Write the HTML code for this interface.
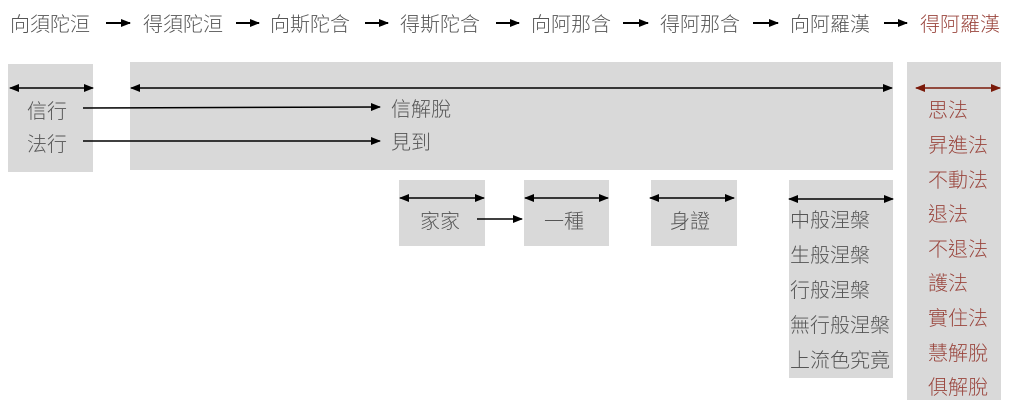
<!DOCTYPE html>
<html><head><meta charset="utf-8"><style>
html,body{margin:0;padding:0;background:#fff;width:1024px;height:409px;overflow:hidden}
svg text{font-family:"Liberation Sans","Noto Sans CJK TC",sans-serif;font-size:20px;fill:#555;font-weight:300}
svg text.r{fill:#9a463e}
</style></head><body>
<svg width="1024" height="409" viewBox="0 0 1024 409" xmlns="http://www.w3.org/2000/svg">
<defs>
<marker id="a" markerWidth="10" markerHeight="8" refX="9" refY="4" orient="auto-start-reverse" markerUnits="userSpaceOnUse"><path d="M0,0 L10,4 L0,8 z" fill="#000"/></marker>
<marker id="ar" markerWidth="10" markerHeight="8" refX="9" refY="4" orient="auto-start-reverse" markerUnits="userSpaceOnUse"><path d="M0,0 L10,4 L0,8 z" fill="#7a1a0a"/></marker>
</defs>
<g>
<text x="10" y="31">向須陀洹</text>
<text x="143" y="31">得須陀洹</text>
<text x="270" y="31">向斯陀含</text>
<text x="400" y="31">得斯陀含</text>
<text x="531" y="31">向阿那含</text>
<text x="660" y="31">得阿那含</text>
<text x="790" y="31">向阿羅漢</text>
<text x="920" y="31" class="r">得阿羅漢</text>
</g>
<g stroke="#000" stroke-width="2" marker-end="url(#a)">
<line x1="106" y1="23" x2="130" y2="23"/>
<line x1="236" y1="23" x2="259" y2="23"/>
<line x1="365" y1="23" x2="388" y2="23"/>
<line x1="496" y1="23" x2="519" y2="23"/>
<line x1="623" y1="23" x2="648" y2="23"/>
<line x1="753" y1="23" x2="778" y2="23"/>
<line x1="884" y1="23" x2="907" y2="23"/>
</g>
<g fill="#d9d9d9">
<rect x="8" y="64" width="85" height="108"/>
<rect x="130" y="62" width="763" height="108"/>
<rect x="907" y="62" width="94" height="338"/>
<rect x="399" y="180" width="86" height="66"/>
<rect x="524" y="180" width="85" height="66"/>
<rect x="651" y="180" width="86" height="66"/>
<rect x="789" y="180" width="104" height="198"/>
</g>
<g stroke="#000" stroke-width="1.5" marker-start="url(#a)" marker-end="url(#a)">
<line x1="10" y1="88" x2="93" y2="88"/>
<line x1="131" y1="88" x2="892" y2="88"/>
<line x1="400" y1="198" x2="484" y2="198"/>
<line x1="525" y1="198" x2="608" y2="198"/>
<line x1="650" y1="198" x2="734" y2="198"/>
<line x1="789" y1="199" x2="893" y2="199"/>
</g>
<line x1="916" y1="88" x2="1000" y2="88" stroke="#7a1a0a" stroke-width="1.5" marker-start="url(#ar)" marker-end="url(#ar)"/>
<g stroke="#000" stroke-width="1.5" marker-end="url(#a)">
<line x1="83" y1="108" x2="380" y2="107"/>
<line x1="83" y1="141" x2="380" y2="141"/>
<line x1="477" y1="219" x2="522" y2="219"/>
</g>
<text x="27" y="118">信行</text>
<text x="27" y="151">法行</text>
<text x="391" y="116">信解脫</text>
<text x="391" y="149">見到</text>
<text x="420" y="228">家家</text>
<text x="544" y="228">一種</text>
<text x="670" y="228">身證</text>
<text x="790" y="227">中般涅槃</text>
<text x="790" y="262">生般涅槃</text>
<text x="790" y="297">行般涅槃</text>
<text x="790" y="332">無行般涅槃</text>
<text x="790" y="367">上流色究竟</text>
<text class="r" x="928" y="117">思法</text>
<text class="r" x="928" y="152">昇進法</text>
<text class="r" x="928" y="187">不動法</text>
<text class="r" x="928" y="221">退法</text>
<text class="r" x="928" y="256">不退法</text>
<text class="r" x="928" y="290">護法</text>
<text class="r" x="928" y="325">實住法</text>
<text class="r" x="928" y="360">慧解脫</text>
<text class="r" x="928" y="394">俱解脫</text>
</svg>
</body></html>
